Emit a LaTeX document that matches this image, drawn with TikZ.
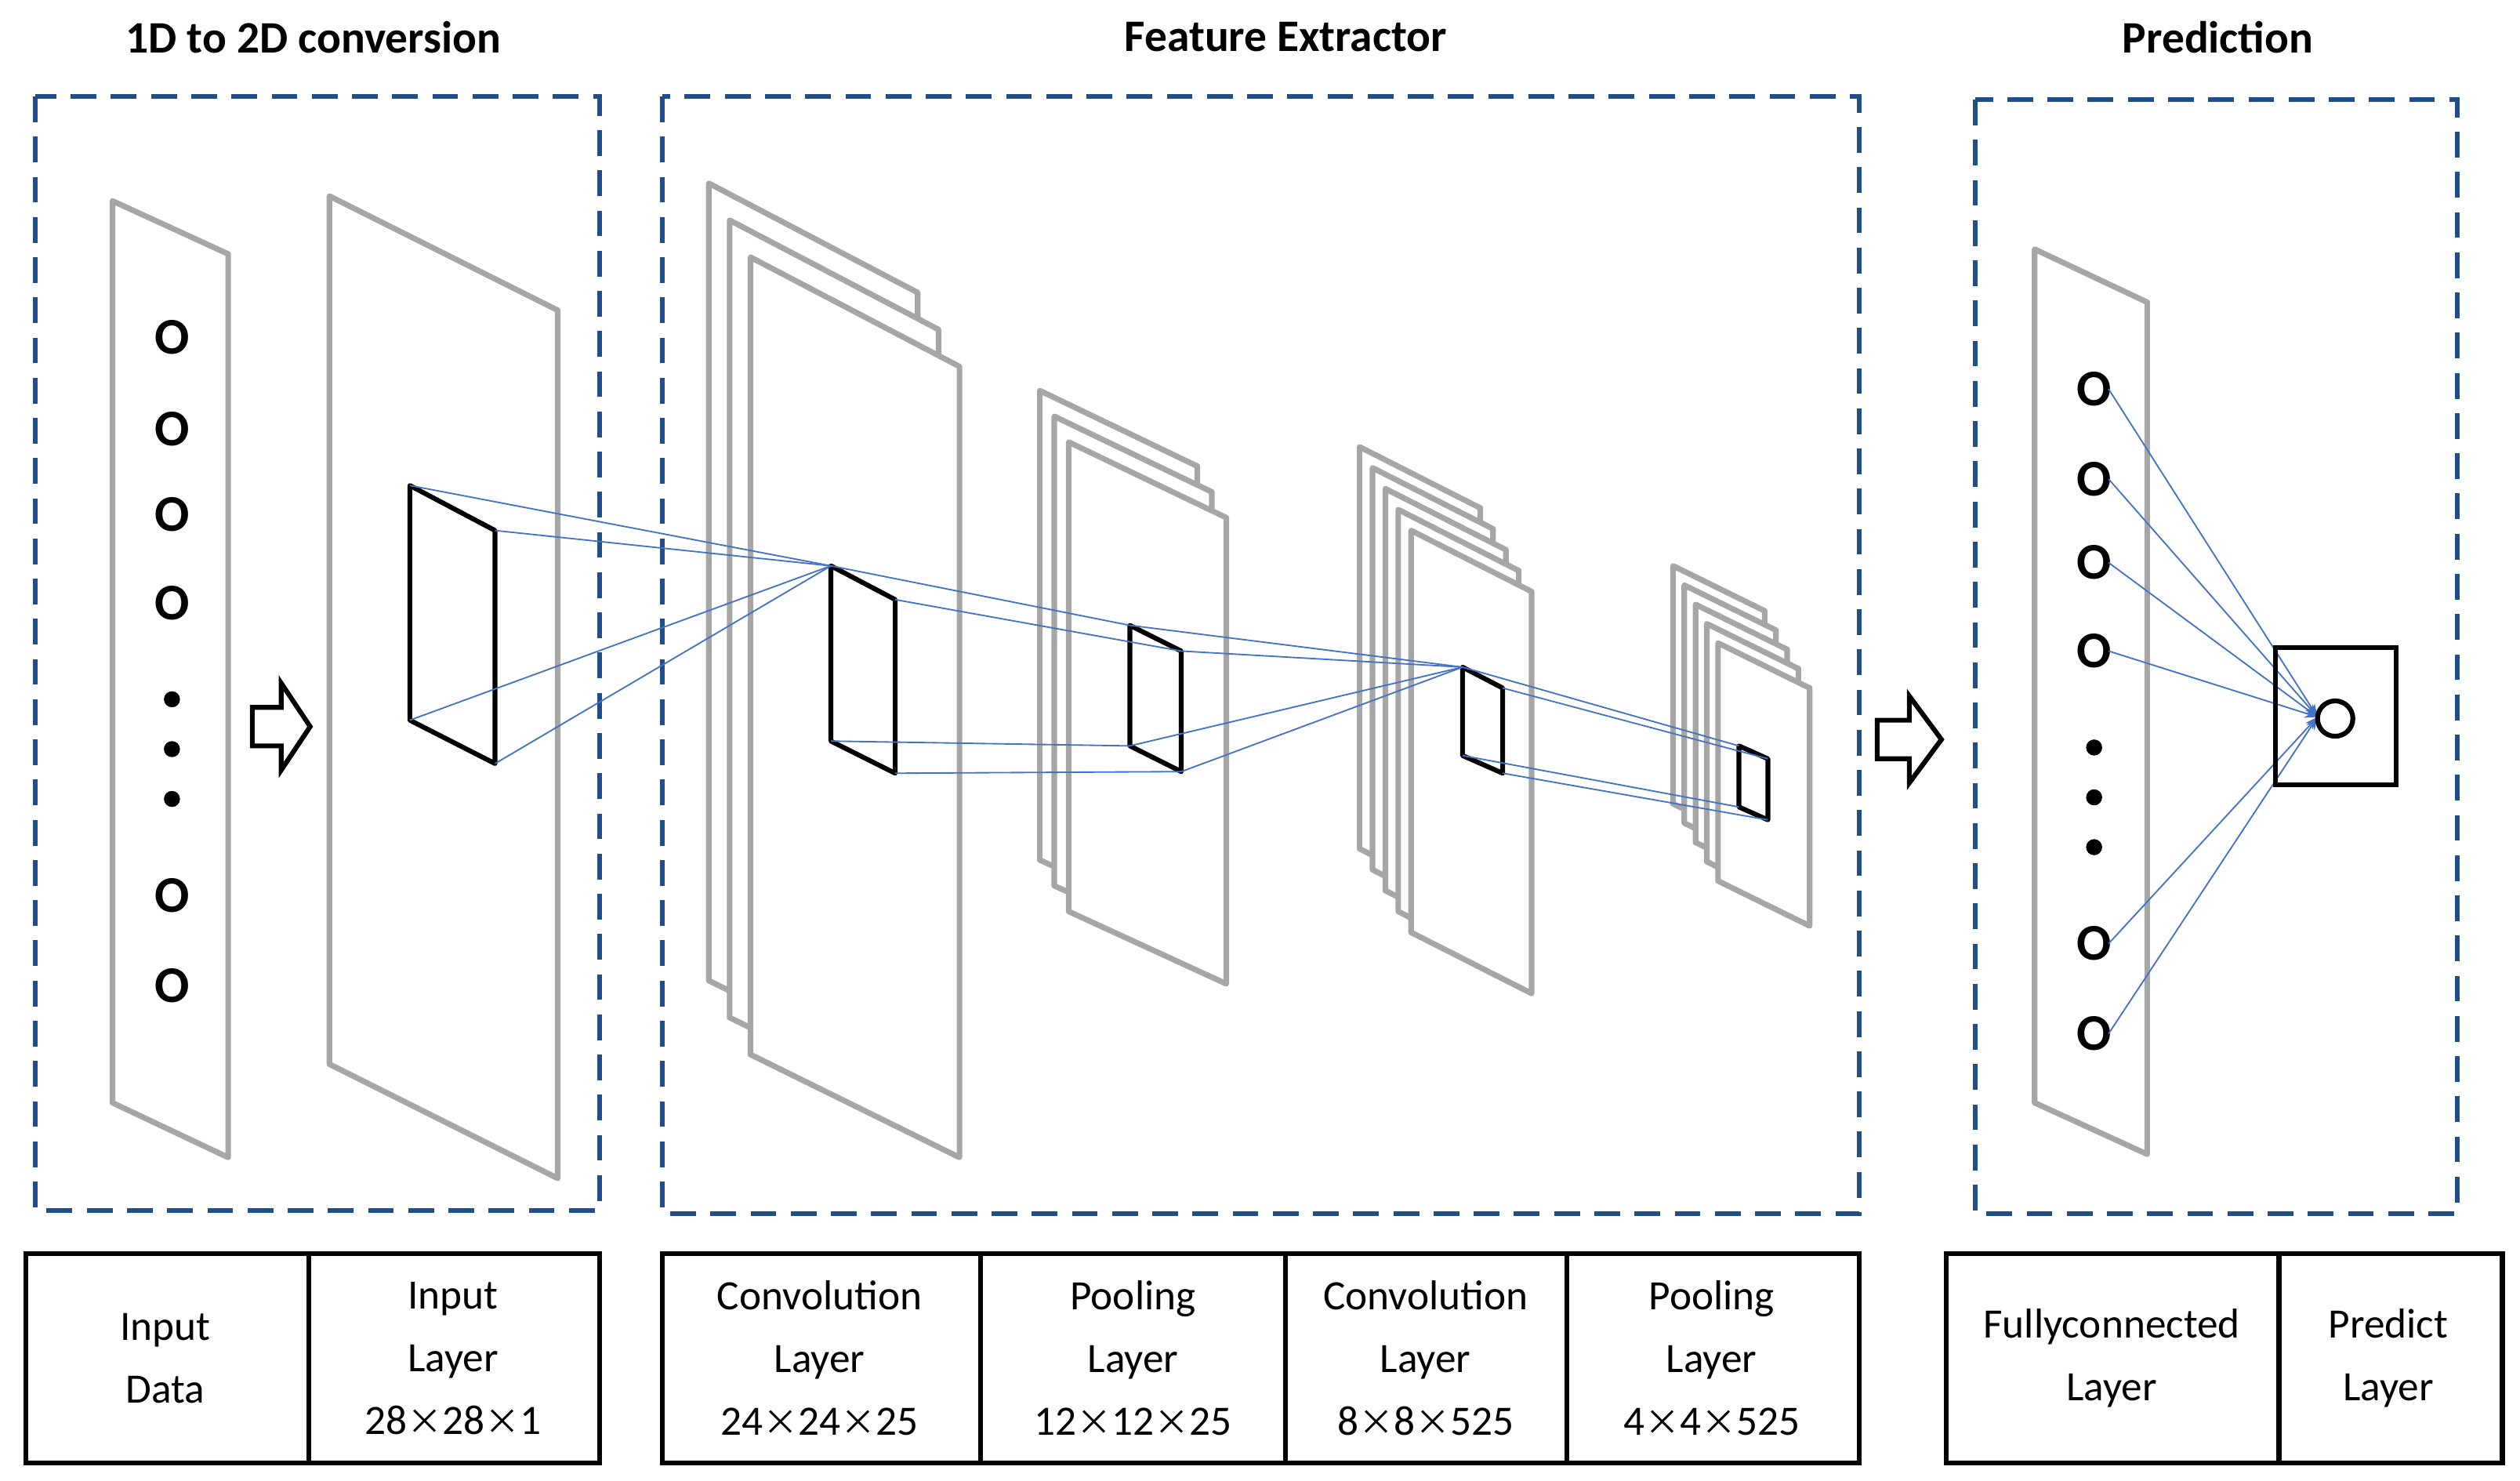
\documentclass[tikz,border=0pt]{standalone}
\usepackage{fontspec}
\usetikzlibrary{calc,arrows.meta}
\setmainfont{Carlito}
\newfontfamily\cjk{Noto Sans CJK SC}
\newcommand{\tm}{{\cjk\fontsize{22}{39}\selectfont ×}}
\begin{document}
\begin{tikzpicture}[x=1pt,y=-1pt,
  dbox/.style={draw=dashblue,line width=3pt,dash pattern=on 16pt off 9pt},
  gsheet/.style={draw=sheetgray,line width=3.5pt,fill=white,line join=round},
  bsheet/.style={draw=black,line width=3pt,line join=round},
  conn/.style={draw=connblue,line width=0.9pt},
  tbl/.style={draw=black,line width=3pt},
  ttl/.style={font=\fontsize{28}{30}\selectfont\bfseries},
  lab/.style={font=\fontsize{26}{39}\selectfont,align=center},
  nd/.style={font=\fontsize{32}{32}\selectfont\bfseries},
  dot/.style={fill=black,circle,inner sep=0pt,minimum size=10pt},
  harrow/.style={draw=black,line width=3pt,fill=white,line join=miter}]
\definecolor{dashblue}{HTML}{1F4E89}
\definecolor{sheetgray}{HTML}{A6A6A6}
\definecolor{connblue}{HTML}{4472C4}
\useasboundingbox (0,0) rectangle (1568,921);
% titles
\node[ttl] (t1) at (195,23) {1D to 2D conversion};
\node[ttl] (t2) at (800,23) {Feature Extractor};
\node[ttl] (t3) at (1380,23) {Prediction};
% dashed boxes
\draw[dbox] (22,60) rectangle (373,753);
\draw[dbox] (412,60) rectangle (1157,755);
\draw[dbox] (1229,62) rectangle (1529,755);
% input strip
\draw[gsheet] (70,125)--(142,158)--(142,720)--(70,686)--cycle;
\foreach \y in {210,267,320,375,557,613} \node[nd] at (107,\y) {O};
\foreach \y in {435,466,497} \node[dot] at (107,\y) {};
% arrow 1
\draw[harrow] (157,440)--(175,440)--(175,425)--(193,452)--(175,479)--(175,464)--(157,464)--cycle;
% input layer
\draw[gsheet] (205,122)--(347,193)--(347,733)--(205,662)--cycle;
% conv1 stack
\foreach \i in {2,1,0}
  \draw[gsheet] ($(467,160)+(-13*\i,-23*\i)$)--++(130,68)--++(0,492)--++(-130,-64)--cycle;
% pool1
\foreach \i in {2,1,0}
  \draw[gsheet] ($(665,275)+(-9*\i,-16*\i)$)--++(98,47)--++(0,290)--++(-98,-45)--cycle;
% conv2
\foreach \i in {4,3,2,1,0}
  \draw[gsheet] ($(878,330)+(-8*\i,-13*\i)$)--++(75,38)--++(0,250)--++(-75,-38)--cycle;
% pool2
\foreach \i in {4,3,2,1,0}
  \draw[gsheet] ($(1069,400)+(-7*\i,-12*\i)$)--++(57,28)--++(0,148)--++(-57,-28)--cycle;
% black kernels
\coordinate (a1) at (255,302); \coordinate (a2) at (308,330); \coordinate (a3) at (308,475); \coordinate (a4) at (255,448);
\coordinate (b1) at (517,352); \coordinate (b2) at (557,373); \coordinate (b3) at (557,481); \coordinate (b4) at (517,461);
\coordinate (c1) at (703,389); \coordinate (c2) at (735,405); \coordinate (c3) at (735,480); \coordinate (c4) at (703,464);
\coordinate (d1) at (910,415); \coordinate (d2) at (935,428); \coordinate (d3) at (935,481); \coordinate (d4) at (910,470);
\coordinate (e1) at (1082,464); \coordinate (e2) at (1100,472); \coordinate (e3) at (1100,510); \coordinate (e4) at (1082,502);
\foreach \k in {a,b,c,d,e} \draw[bsheet] (\k1)--(\k2)--(\k3)--(\k4)--cycle;
% connections
\foreach \p in {a1,a2,a3,a4} \draw[conn] (\p)--(b1);
\foreach \p in {1,2,3,4} \draw[conn] (b\p)--(c\p);
\foreach \p in {c1,c2,c3,c4} \draw[conn] (\p)--(d1);
\foreach \p in {1,2,3,4} \draw[conn] (d\p)--(e\p);
% arrow 2
\draw[harrow] (1168,448)--(1188,448)--(1188,433)--(1208,460)--(1188,487)--(1188,472)--(1168,472)--cycle;
% FC strip
\draw[gsheet] (1266,155)--(1336,188)--(1336,718)--(1266,686)--cycle;
\coordinate (pt) at (1442,446);
\foreach \y [count=\n] in {242,298,350,405,587,643} {
  \node[nd] (o\n) at (1303,\y) {O};
  \draw[conn,-{Stealth[length=8pt]}] (1312,\y)--(pt);
}
\foreach \y in {465,496,527} \node[dot] at (1303,\y) {};
% predict
\draw[black,line width=3pt] (1416,403) rectangle (1491,488);
\draw[black,line width=3pt] (1453,447) circle (11);
% table
\draw[tbl] (16,780) rectangle (373,910); \draw[tbl] (192,780)--(192,910);
\draw[tbl] (412,780) rectangle (1157,910);
\foreach \x in {610,800,975} \draw[tbl] (\x,780)--(\x,910);
\draw[tbl] (1211,780) rectangle (1557,910); \draw[tbl] (1418,780)--(1418,910);
\node[lab] (l1) at (103,845) {Input\\Data};
\node[lab] (l2) at (282,845) {Input\\Layer\\28\tm28\tm1};
\node[lab] (l3) at (510,845) {Convolution\\Layer\\24\tm24\tm25};
\node[lab] (l4) at (705,845) {Pooling\\Layer\\12\tm12\tm25};
\node[lab] (l5) at (887,845) {Convolution\\Layer\\8\tm8\tm525};
\node[lab] (l6) at (1065,845) {Pooling\\Layer\\4\tm4\tm525};
\node[lab] (l7) at (1314,845) {Fullyconnected\\Layer};
\node[lab] (l8) at (1486,845) {Predict\\Layer};
\end{tikzpicture}
\end{document}
